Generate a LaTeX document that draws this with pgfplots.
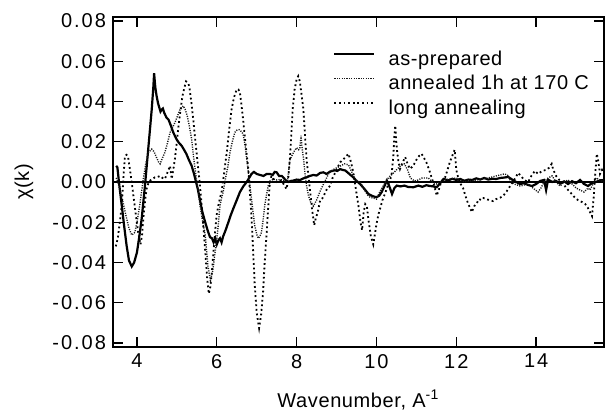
\documentclass[border=0pt]{standalone}
\usepackage{fontspec}
\setmainfont{Liberation Sans}
\newfontfamily\tickfont[LetterSpace=10]{Liberation Sans}
\newfontfamily\legfont[LetterSpace=3]{Liberation Sans}
\usepackage{pgfplots}
\pgfplotsset{compat=1.18}
\begin{document}
\begin{tikzpicture}
\useasboundingbox (-56.5pt,-34.5pt) rectangle (246pt,173.5pt);
\begin{axis}[
  at={(0pt,0pt)}, anchor=south west,
  width=245.5pt, height=165pt, scale only axis,
  xmin=3.4, xmax=15.7, ymin=-0.082, ymax=0.082,
  scaled x ticks=false, scaled y ticks=false,
  xtick={4,6,8,10,12,14},
  ytick={-0.08,-0.06,-0.04,-0.02,0,0.02,0.04,0.06,0.08},
  yticklabels={-0.08,-0.06,-0.04,-0.02,0.00,0.02,0.04,0.06,0.08},
  xticklabels={4,6,8,10,12,14},
  tick align=inside, major tick length=5pt,
  tick style={black, line width=0.7pt},
  axis line style={line width=0.8pt},
  ticklabel style={font=\tickfont\fontsize{10}{12}\selectfont},
  /pgf/number format/assume math mode=true,
  xlabel={Wavenumber, A\textsuperscript{-1}},
  ylabel={\char"03C7(k)},
  label style={font=\legfont\fontsize{10}{12}\selectfont},
  xlabel style={at={(axis description cs:0.5,-0.1606)}, anchor=center},
  ylabel style={at={(axis description cs:-0.1813,0.5)}, anchor=center},
  legend cell align=left,
  legend image code/.code={\draw[#1] (0pt,3pt) -- (20pt,3pt);},
  legend style={at={(0.448,0.9)}, anchor=north west, draw=none, fill=none,
    inner sep=0pt, row sep=2.75pt, font=\legfont\fontsize{10}{12}\selectfont,
    nodes={inner sep=0pt, text height=7.5pt, text depth=2pt},
    /tikz/every odd column/.append style={column sep=6.5pt}},
]
\addplot[black, line width=0.6pt, forget plot] coordinates {(3.4,0) (15.7,0)};
\addplot[black, line width=1.1pt] coordinates {
(3.48,0.008) (3.51,0.0073) (3.56,-0.002) (3.62,-0.0117) (3.68,-0.022) (3.74,-0.0315)
(3.80,-0.039) (3.87,-0.042) (3.93,-0.040) (4.00,-0.035) (4.06,-0.027) (4.12,-0.018)
(4.20,-0.002) (4.29,0.018) (4.37,0.036) (4.41,0.047) (4.43,0.054) (4.46,0.047)
(4.49,0.043) (4.53,0.039) (4.56,0.037) (4.59,0.035) (4.62,0.036) (4.65,0.0365)
(4.68,0.0345) (4.74,0.032) (4.79,0.031) (4.85,0.028) (4.91,0.0246) (4.99,0.0213)
(5.05,0.0195) (5.12,0.018) (5.18,0.016) (5.24,0.0139) (5.30,0.011) (5.37,0.0081)
(5.43,0.004) (5.48,0.0) (5.53,-0.004) (5.58,-0.0092) (5.64,-0.015) (5.71,-0.020)
(5.77,-0.024) (5.83,-0.0274) (5.88,-0.028) (5.92,-0.030) (5.96,-0.028) (6.00,-0.031)
(6.04,-0.029) (6.08,-0.028) (6.12,-0.030) (6.16,-0.027) (6.22,-0.024) (6.29,-0.020)
(6.35,-0.0165) (6.41,-0.0134) (6.50,-0.009) (6.58,-0.005) (6.67,-0.002) (6.75,0.0)
(6.81,0.002) (6.87,0.004) (6.93,0.005) (7.00,0.004) (7.08,0.0035) (7.17,0.003)
(7.25,0.004) (7.33,0.004) (7.40,0.0035) (7.45,0.005) (7.50,0.0048) (7.56,0.003)
(7.63,0.003) (7.70,0.0015) (7.75,0.0005) (7.79,0.0) (7.85,0.0005) (7.92,0.0007)
(8.0,0.0012) (8.09,0.001) (8.17,0.0018) (8.25,0.0023) (8.33,0.003) (8.42,0.0035)
(8.5,0.0032) (8.59,0.0045) (8.67,0.0048) (8.75,0.004) (8.84,0.0052) (8.95,0.0058)
(9.02,0.0055) (9.09,0.0064) (9.15,0.006) (9.22,0.0057) (9.32,0.004) (9.42,0.0023)
(9.5,0.0005) (9.59,-0.001) (9.7,-0.0035) (9.8,-0.006) (9.9,-0.007) (10.0,-0.0076)
(10.07,-0.0068) (10.13,-0.005) (10.2,-0.002) (10.26,0.0007) (10.32,-0.002) (10.39,-0.006)
(10.45,-0.003) (10.51,-0.0018) (10.6,-0.0022) (10.7,-0.0018) (10.8,-0.0025) (10.93,-0.0026)
(11.05,-0.0018) (11.15,-0.0024) (11.25,-0.0016) (11.34,-0.002) (11.42,-0.0022) (11.51,-0.0026)
(11.6,-0.0005) (11.68,0.0015) (11.8,0.0008) (11.9,0.0016) (12.0,0.001) (12.1,0.0015)
(12.2,0.0006) (12.3,0.0012) (12.4,0.001) (12.5,0.0018) (12.6,0.0012) (12.7,0.002)
(12.8,0.0012) (12.9,0.0016) (13.0,0.0015) (13.1,0.002) (13.2,0.0022) (13.3,0.0025)
(13.4,0.0012) (13.5,0.0) (13.6,-0.001) (13.7,-0.0006) (13.8,-0.0015) (13.9,-0.002)
(14.0,-0.001) (14.1,0.0005) (14.2,0.001) (14.25,-0.004) (14.3,0.0012) (14.4,0.0)
(14.5,0.0005) (14.6,-0.0008) (14.7,0.0003) (14.8,-0.001) (14.9,0.0004) (15.0,-0.0006)
(15.1,0.001) (15.2,-0.001) (15.3,-0.002) (15.4,-0.0005) (15.5,0.0) (15.6,0.0008) (15.7,0.001)
};
\addlegendentry{as-prepared}
\addplot[black!90, line width=0.7pt, dash pattern=on 0.55pt off 0.65pt] coordinates {
(3.48,0.002) (3.52,0.0) (3.57,-0.0035) (3.65,-0.010) (3.74,-0.018) (3.80,-0.023)
(3.87,-0.0264) (3.95,-0.025) (4.01,-0.019) (4.07,-0.0115) (4.16,0.0015) (4.22,0.009)
(4.29,0.0147) (4.37,0.0163) (4.43,0.015) (4.49,0.0122) (4.54,0.010) (4.58,0.009)
(4.64,0.012) (4.70,0.0147) (4.76,0.019) (4.83,0.0246) (4.89,0.027) (4.95,0.0295)
(5.02,0.033) (5.08,0.036) (5.16,0.0378) (5.21,0.036) (5.26,0.0328) (5.31,0.028)
(5.37,0.0213) (5.42,0.012) (5.48,0.003) (5.53,-0.004) (5.58,-0.0117) (5.64,-0.019)
(5.71,-0.0264) (5.78,-0.042) (5.84,-0.049) (5.90,-0.044) (5.97,-0.033) (6.02,-0.025)
(6.08,-0.0117) (6.12,-0.008) (6.16,-0.005) (6.22,0.002) (6.28,0.008) (6.33,0.0147)
(6.39,0.020) (6.45,0.0246) (6.51,0.0258) (6.56,0.026) (6.62,0.025) (6.66,0.0238)
(6.71,0.018) (6.75,0.0115) (6.79,0.005) (6.83,-0.0018) (6.89,-0.012) (6.95,-0.0216)
(7.00,-0.026) (7.04,-0.028) (7.08,-0.027) (7.12,-0.025) (7.16,-0.019) (7.20,-0.0117)
(7.25,-0.006) (7.29,-0.0018) (7.35,0.0) (7.41,0.0015) (7.5,0.001) (7.6,0.0012)
(7.7,0.0005) (7.77,0.0) (7.80,0.005) (7.83,0.011) (7.88,0.013) (7.93,0.015)
(8.0,0.017) (8.05,0.016) (8.08,0.0165) (8.11,0.023) (8.13,0.018) (8.17,0.012)
(8.21,0.004) (8.25,-0.002) (8.30,-0.007) (8.35,-0.010) (8.42,-0.012) (8.5,-0.009)
(8.6,-0.004) (8.7,0.0) (8.8,0.004) (8.9,0.006) (9.0,0.007) (9.1,0.008)
(9.2,0.009) (9.3,0.0085) (9.38,0.005) (9.45,0.002) (9.52,0.0005) (9.59,0.0)
(9.7,-0.004) (9.78,-0.0065) (9.84,-0.0076) (9.92,-0.008) (10.0,-0.0085) (10.08,-0.005)
(10.17,-0.002) (10.25,0.001) (10.32,0.0025) (10.4,0.004) (10.5,0.006) (10.6,0.008)
(10.7,0.009) (10.78,0.006) (10.85,0.002) (10.95,0.0005) (11.05,0.001) (11.15,0.002)
(11.3,0.002) (11.4,0.0) (11.5,-0.001) (11.6,0.0) (11.7,0.001) (11.85,0.0015)
(12.0,0.002) (12.1,0.001) (12.2,0.0) (12.35,0.0005) (12.5,0.001) (12.65,0.0015)
(12.8,0.002) (12.9,0.0025) (13.0,0.003) (13.1,0.0035) (13.2,0.004) (13.28,0.0035)
(13.35,0.001) (13.45,-0.001) (13.6,-0.002) (13.7,-0.0015) (13.8,-0.001) (13.92,-0.003)
(14.05,-0.005) (14.12,-0.003) (14.2,0.0) (14.3,0.002) (14.4,0.003) (14.5,0.0)
(14.6,-0.002) (14.7,0.0) (14.8,0.001) (14.9,-0.001) (15.0,-0.003) (15.1,-0.004)
(15.2,-0.005) (15.3,-0.003) (15.35,-0.004) (15.45,0.0) (15.5,0.002) (15.6,0.001) (15.7,0.0)
};
\addlegendentry{annealed 1h at 170 C}
\addplot[black, line width=0.9pt, dash pattern=on 0.9pt off 1.4pt] coordinates {
(3.47,-0.032) (3.52,-0.028) (3.57,-0.020) (3.62,-0.0117) (3.66,0.002) (3.70,0.013)
(3.74,0.0135) (3.78,0.0122) (3.84,0.004) (3.90,-0.005) (3.97,-0.016) (4.03,-0.025)
(4.09,-0.031) (4.13,-0.026) (4.16,-0.018) (4.20,-0.010) (4.24,-0.0035) (4.28,-0.001)
(4.33,0.0007) (4.39,0.0015) (4.45,0.0023) (4.52,0.0025) (4.58,0.003) (4.64,0.002)
(4.70,0.0015) (4.75,0.004) (4.80,0.0065) (4.83,0.008) (4.87,0.0015) (4.91,0.006)
(4.95,0.0114) (5.0,0.020) (5.03,0.026) (5.08,0.034) (5.14,0.0427) (5.19,0.047)
(5.23,0.050) (5.27,0.0495) (5.31,0.0477) (5.36,0.040) (5.41,0.0312) (5.46,0.021)
(5.51,0.0114) (5.56,0.002) (5.60,-0.0066) (5.64,-0.016) (5.68,-0.0264) (5.72,-0.037)
(5.76,-0.048) (5.80,-0.0555) (5.84,-0.052) (5.88,-0.044) (5.92,-0.034) (5.96,-0.024)
(6.00,-0.016) (6.04,-0.0117) (6.08,-0.008) (6.12,-0.005) (6.18,0.004) (6.25,0.0147)
(6.31,0.026) (6.37,0.036) (6.43,0.042) (6.50,0.046) (6.54,0.046) (6.58,0.0444)
(6.62,0.038) (6.66,0.031) (6.72,0.019) (6.79,0.0064) (6.83,-0.005) (6.87,-0.018)
(6.91,-0.034) (6.95,-0.051) (7.0,-0.065) (7.06,-0.0726) (7.11,-0.066) (7.16,-0.0546)
(7.20,-0.040) (7.25,-0.025) (7.29,-0.012) (7.33,0.0) (7.37,0.003) (7.43,0.001)
(7.5,0.0) (7.57,0.001) (7.63,0.0005) (7.70,-0.002) (7.75,-0.0035) (7.79,0.002)
(7.83,0.011) (7.87,0.025) (7.90,0.036) (7.95,0.046) (8.0,0.051) (8.04,0.0526)
(8.08,0.050) (8.12,0.044) (8.17,0.036) (8.21,0.023) (8.25,0.011) (8.30,0.002)
(8.34,-0.005) (8.39,-0.014) (8.44,-0.0215) (8.48,-0.018) (8.53,-0.015) (8.59,-0.009)
(8.65,-0.008) (8.7,-0.006) (8.77,-0.003) (8.84,-0.002) (8.9,0.002) (8.95,0.004)
(9.02,0.007) (9.09,0.0098) (9.16,0.011) (9.23,0.0125) (9.3,0.014) (9.36,0.010)
(9.42,0.0048) (9.48,-0.003) (9.55,-0.012) (9.6,-0.02) (9.64,-0.024) (9.68,-0.015)
(9.72,-0.011) (9.76,-0.012) (9.8,-0.019) (9.86,-0.027) (9.92,-0.031) (9.96,-0.026)
(10.0,-0.021) (10.05,-0.016) (10.09,-0.0134) (10.15,-0.009) (10.21,-0.006) (10.28,-0.002)
(10.34,0.0007) (10.38,0.004) (10.42,0.012) (10.45,0.023) (10.47,0.028) (10.49,0.022)
(10.51,0.0165) (10.55,0.010) (10.59,0.0065) (10.65,0.0095) (10.72,0.0124) (10.78,0.009)
(10.84,0.0065) (10.92,0.008) (11.0,0.011) (11.07,0.013) (11.13,0.014) (11.19,0.012)
(11.25,0.0098) (11.32,0.006) (11.38,0.0023) (11.45,-0.002) (11.51,-0.0068) (11.56,-0.004)
(11.62,0.0) (11.68,0.0015) (11.72,0.0023) (11.78,0.006) (11.84,0.010) (11.9,0.013)
(11.93,0.0147) (11.96,0.016) (12.0,0.006) (12.05,0.002) (12.11,-0.001) (12.17,-0.003)
(12.23,-0.007) (12.3,-0.011) (12.35,-0.013) (12.39,-0.015) (12.45,-0.012) (12.5,-0.011)
(12.57,-0.0085) (12.63,-0.009) (12.68,-0.008) (12.75,-0.0085) (12.83,-0.009) (12.92,-0.0095)
(13.0,-0.0085) (13.08,-0.008) (13.17,-0.007) (13.25,-0.005) (13.35,-0.002) (13.45,0.001)
(13.55,0.0045) (13.62,0.003) (13.7,0.001) (13.8,0.0) (13.88,0.003) (13.97,0.0055)
(14.05,0.004) (14.15,0.0055) (14.25,0.006) (14.32,0.007) (14.39,0.009) (14.43,0.006)
(14.5,0.003) (14.58,0.001) (14.66,0.0) (14.75,-0.003) (14.85,-0.005) (14.98,-0.008)
(15.05,-0.009) (15.15,-0.010) (15.23,-0.011) (15.3,-0.013) (15.35,-0.015) (15.4,-0.017)
(15.44,-0.008) (15.48,0.004) (15.52,0.014) (15.56,0.010) (15.6,0.004) (15.65,0.006) (15.7,0.004)
};
\addlegendentry{long annealing}
\end{axis}
\end{tikzpicture}
\end{document}
